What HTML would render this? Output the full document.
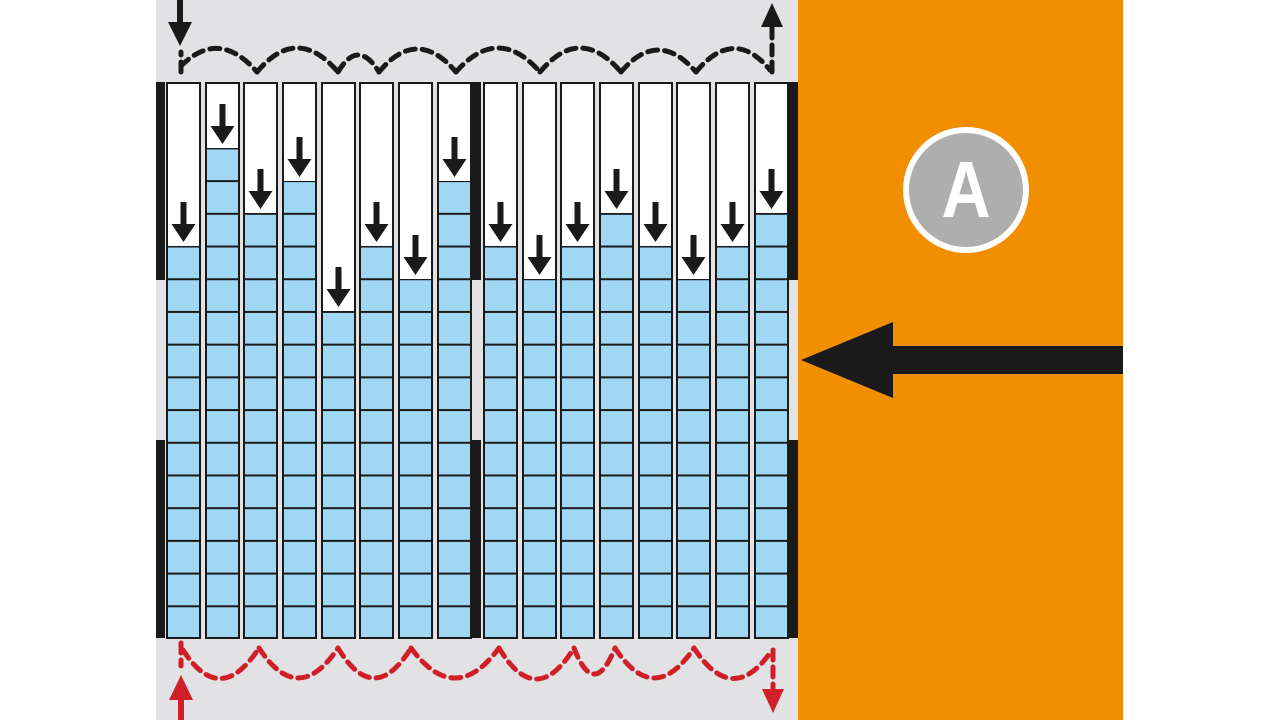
<!DOCTYPE html>
<html><head><meta charset="utf-8"><style>html,body{margin:0;padding:0;background:#fff}svg{display:block}
#a{position:absolute;left:906px;top:130px;width:120px;height:120px;line-height:120px;text-align:center;font-family:"Liberation Sans",Arial,sans-serif;font-weight:bold;font-size:80px;color:#fff;transform:scaleX(0.85)}</style></head>
<body>
<svg width="1281" height="720" viewBox="0 0 1281 720" xmlns="http://www.w3.org/2000/svg">
<defs>
<pattern id="cells" patternUnits="userSpaceOnUse" x="0" y="82" width="40" height="32.706">
<rect width="40" height="32.706" fill="#a0d8f3"/>
<rect width="40" height="2" fill="#1a1a1a"/>
</pattern>
<g id="arr"><rect x="-3" y="-44" width="6" height="26" fill="#1a1a1a"/><polygon points="-12,-22 12,-22 0,-4" fill="#1a1a1a"/></g>
</defs>
<rect x="156" y="0" width="642" height="720" fill="#e2e2e4"/>
<rect x="798" y="0" width="325" height="720" fill="#f18f00"/>
<rect x="156" y="82" width="9" height="198" fill="#1a1a1a"/>
<rect x="156" y="440" width="9" height="198" fill="#1a1a1a"/>
<rect x="472" y="82" width="9" height="198" fill="#1a1a1a"/>
<rect x="472" y="440" width="9" height="198" fill="#1a1a1a"/>
<rect x="789" y="82" width="9" height="198" fill="#1a1a1a"/>
<rect x="789" y="440" width="9" height="198" fill="#1a1a1a"/>
<g stroke="none">
<rect x="167" y="82" width="33" height="556" fill="#fff"/><rect x="167" y="246" width="33" height="392" fill="url(#cells)"/>
<rect x="206" y="82" width="33" height="556" fill="#fff"/><rect x="206" y="148" width="33" height="490" fill="url(#cells)"/>
<rect x="244" y="82" width="33" height="556" fill="#fff"/><rect x="244" y="213" width="33" height="425" fill="url(#cells)"/>
<rect x="283" y="82" width="33" height="556" fill="#fff"/><rect x="283" y="181" width="33" height="457" fill="url(#cells)"/>
<rect x="322" y="82" width="33" height="556" fill="#fff"/><rect x="322" y="311" width="33" height="327" fill="url(#cells)"/>
<rect x="360" y="82" width="33" height="556" fill="#fff"/><rect x="360" y="246" width="33" height="392" fill="url(#cells)"/>
<rect x="399" y="82" width="33" height="556" fill="#fff"/><rect x="399" y="279" width="33" height="359" fill="url(#cells)"/>
<rect x="438" y="82" width="33" height="556" fill="#fff"/><rect x="438" y="181" width="33" height="457" fill="url(#cells)"/>
<rect x="484" y="82" width="33" height="556" fill="#fff"/><rect x="484" y="246" width="33" height="392" fill="url(#cells)"/>
<rect x="523" y="82" width="33" height="556" fill="#fff"/><rect x="523" y="279" width="33" height="359" fill="url(#cells)"/>
<rect x="561" y="82" width="33" height="556" fill="#fff"/><rect x="561" y="246" width="33" height="392" fill="url(#cells)"/>
<rect x="600" y="82" width="33" height="556" fill="#fff"/><rect x="600" y="213" width="33" height="425" fill="url(#cells)"/>
<rect x="639" y="82" width="33" height="556" fill="#fff"/><rect x="639" y="246" width="33" height="392" fill="url(#cells)"/>
<rect x="677" y="82" width="33" height="556" fill="#fff"/><rect x="677" y="279" width="33" height="359" fill="url(#cells)"/>
<rect x="716" y="82" width="33" height="556" fill="#fff"/><rect x="716" y="246" width="33" height="392" fill="url(#cells)"/>
<rect x="755" y="82" width="33" height="556" fill="#fff"/><rect x="755" y="213" width="33" height="425" fill="url(#cells)"/>
</g>
<g fill="none" stroke="#1a1a1a" stroke-width="2">
<rect x="167" y="83" width="33" height="555"/><rect x="206" y="83" width="33" height="555"/><rect x="244" y="83" width="33" height="555"/><rect x="283" y="83" width="33" height="555"/>
<rect x="322" y="83" width="33" height="555"/><rect x="360" y="83" width="33" height="555"/><rect x="399" y="83" width="33" height="555"/><rect x="438" y="83" width="33" height="555"/>
<rect x="484" y="83" width="33" height="555"/><rect x="523" y="83" width="33" height="555"/><rect x="561" y="83" width="33" height="555"/><rect x="600" y="83" width="33" height="555"/>
<rect x="639" y="83" width="33" height="555"/><rect x="677" y="83" width="33" height="555"/><rect x="716" y="83" width="33" height="555"/><rect x="755" y="83" width="33" height="555"/>
</g>
<use href="#arr" x="183.5" y="246"/><use href="#arr" x="222.5" y="148"/><use href="#arr" x="260.5" y="213"/><use href="#arr" x="299.5" y="181"/>
<use href="#arr" x="338.5" y="311"/><use href="#arr" x="376.5" y="246"/><use href="#arr" x="415.5" y="279"/><use href="#arr" x="454.5" y="181"/>
<use href="#arr" x="500.5" y="246"/><use href="#arr" x="539.5" y="279"/><use href="#arr" x="577.5" y="246"/><use href="#arr" x="616.5" y="213"/>
<use href="#arr" x="655.5" y="246"/><use href="#arr" x="693.5" y="279"/><use href="#arr" x="732.5" y="246"/><use href="#arr" x="771.5" y="213"/>
<rect x="177" y="0" width="6" height="26" fill="#1a1a1a"/>
<polygon points="168,22 192,22 180,46" fill="#1a1a1a"/>
<polygon points="761,27 783,27 772,3" fill="#1a1a1a"/>
<g fill="none" stroke="#1a1a1a" stroke-width="5" stroke-dasharray="10,7" stroke-linecap="round">
<path d="M181,72 L181,52"/>
<path d="M181,66 Q219,28 257,72"/>
<path d="M257,72 Q297,24 338,72"/>
<path d="M338,72 Q358,38 379,72"/>
<path d="M379,72 Q417,26 456,72"/>
<path d="M456,72 Q498,24 540,72"/>
<path d="M540,72 Q580,24 621,72"/>
<path d="M621,72 Q658,28 696,72"/>
<path d="M696,72 Q734,26 770,70"/>
<path d="M772,72 L772,26"/>
</g>
<rect x="178" y="696" width="6" height="24" fill="#d11f2a"/>
<polygon points="169,700 193,700 181,675" fill="#d11f2a"/>
<polygon points="762,689 784,689 773,713" fill="#d11f2a"/>
<g fill="none" stroke="#d11f2a" stroke-width="5" stroke-dasharray="10,7" stroke-linecap="round">
<path d="M181,643 L181,666"/>
<path d="M183,650 Q220,708 259,648"/>
<path d="M259,648 Q298,708 338,648"/>
<path d="M338,648 Q374,708 411,648"/>
<path d="M411,648 Q455,708 499,648"/>
<path d="M499,648 Q536,710 574,648"/>
<path d="M574,648 Q594,700 615,648"/>
<path d="M615,648 Q654,708 694,648"/>
<path d="M694,648 Q733,708 772,650"/>
<path d="M773,650 L773,690"/>
</g>
<circle cx="966" cy="190" r="60" fill="#aeaeae" stroke="#fff" stroke-width="6"/>
<polygon points="801,360 893,322 893,346 1123,346 1123,374 893,374 893,398" fill="#1a1a1a"/>
</svg>
<div id="a">A</div>
</body></html>
